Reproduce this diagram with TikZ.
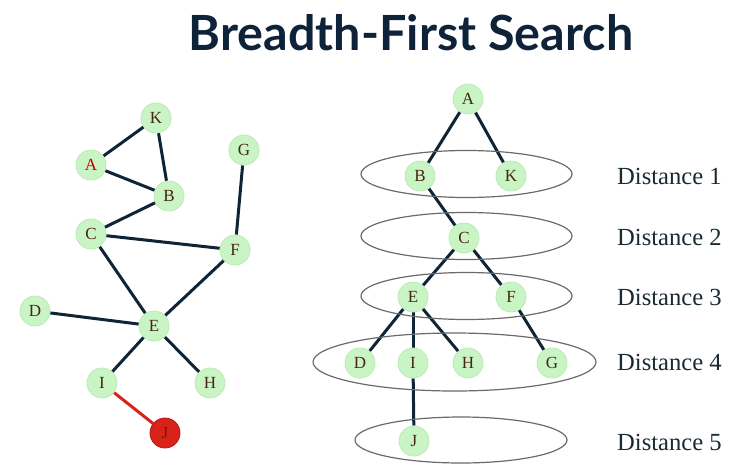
\documentclass[tikz,border=0pt]{standalone}
\usepackage{fontspec}
\setmainfont{Liberation Serif}
\newfontfamily\titlefont{Lato}
\usetikzlibrary{backgrounds}
\definecolor{nodegreen}{HTML}{C9F5C4}
\definecolor{nodeedge}{HTML}{BDE8B8}
\definecolor{labelbrown}{HTML}{4A2410}
\definecolor{edgenavy}{HTML}{0F2434}
\definecolor{titlenavy}{HTML}{0E2339}
\definecolor{jred}{HTML}{D8231A}
\definecolor{jredborder}{HTML}{B81810}
\definecolor{ringgray}{HTML}{6A6A6A}
\definecolor{textgray}{HTML}{1A2A33}
\tikzset{
  vert/.style={circle, minimum size=30pt, inner sep=0pt, fill=nodegreen, draw=nodeedge, line width=0.8pt,
    text=labelbrown, font=\fontsize{17}{17}\selectfont},
  redvert/.style={vert, fill=jred, draw=jredborder, text=jredborder!70!black},
  edge/.style={draw=edgenavy, line width=3pt},
  redge/.style={draw=jred, line width=3pt},
  ring/.style={draw=ringgray, line width=1.2pt},
  distlabel/.style={anchor=west, inner sep=0pt, text=textgray, font=\fontsize{24.6}{24.6}\selectfont},
}
\begin{document}
\begin{tikzpicture}[x=1pt, y=-1pt]
\useasboundingbox (0,0) rectangle (748,472);
% title
\node[text=titlenavy, font=\titlefont\bfseries\fontsize{48.5}{48.5}\selectfont, inner sep=0pt] (title) at (411,33) {Breadth-First Search};
% left graph nodes
\node[vert] (lK) at (156,118) {K};
\node[vert, text=red!75!black] (lA) at (91,165) {A};
\node[vert] (lB) at (169,196) {B};
\node[vert] (lG) at (244,150) {G};
\node[vert] (lC) at (91,234) {C};
\node[vert] (lF) at (235,250) {F};
\node[vert] (lD) at (35,311) {D};
\node[vert] (lE) at (154,326) {E};
\node[vert] (lI) at (102,383) {I};
\node[vert] (lH) at (210,383) {H};
\node[redvert] (lJ) at (165,433) {J};
% right tree nodes
\node[vert] (rA) at (468,99) {A};
\node[vert] (rB) at (420,176) {B};
\node[vert] (rK) at (511,176) {K};
\node[vert] (rC) at (464,238) {C};
\node[vert] (rE) at (413,297) {E};
\node[vert] (rF) at (511,297) {F};
\node[vert] (rD) at (360,363) {D};
\node[vert] (rI) at (413,363) {I};
\node[vert] (rH) at (468,363) {H};
\node[vert] (rG) at (552,363) {G};
\node[vert] (rJ) at (414,441) {J};
\begin{scope}[on background layer]
% edges
\draw[edge] (lA) -- (lK);
\draw[edge] (lA) -- (lB);
\draw[edge] (lK) -- (lB);
\draw[edge] (lB) -- (lC);
\draw[edge] (lC) -- (lF);
\draw[edge] (lG) -- (lF);
\draw[edge] (lC) -- (lE);
\draw[edge] (lF) -- (lE);
\draw[edge] (lD) -- (lE);
\draw[edge] (lE) -- (lI);
\draw[edge] (lE) -- (lH);
\draw[redge] (lI) -- (lJ);
\draw[edge] (rA) -- (rB);
\draw[edge] (rA) -- (rK);
\draw[edge] (rB) -- (rC);
\draw[edge] (rC) -- (rE);
\draw[edge] (rC) -- (rF);
\draw[edge] (rE) -- (rD);
\draw[edge] (rE) -- (rI);
\draw[edge] (rE) -- (rH);
\draw[edge] (rF) -- (rG);
\draw[edge] (rI) -- (rJ);
% rings
\draw[ring] (466.5,174) ellipse [x radius=105.5, y radius=23.5];
\draw[ring] (466.5,236) ellipse [x radius=105.5, y radius=23.5];
\draw[ring] (466.5,296) ellipse [x radius=105.5, y radius=23.5];
\draw[ring] (454.5,362) ellipse [x radius=141.5, y radius=29];
\draw[ring] (461,440) ellipse [x radius=106, y radius=23];
\end{scope}
% labels
\node[distlabel] (d1) at (617,176) {Distance 1};
\node[distlabel] (d2) at (617,237) {Distance 2};
\node[distlabel] (d3) at (617,297) {Distance 3};
\node[distlabel] (d4) at (617,362) {Distance 4};
\node[distlabel] (d5) at (617,442) {Distance 5};
\end{tikzpicture}
\end{document}
